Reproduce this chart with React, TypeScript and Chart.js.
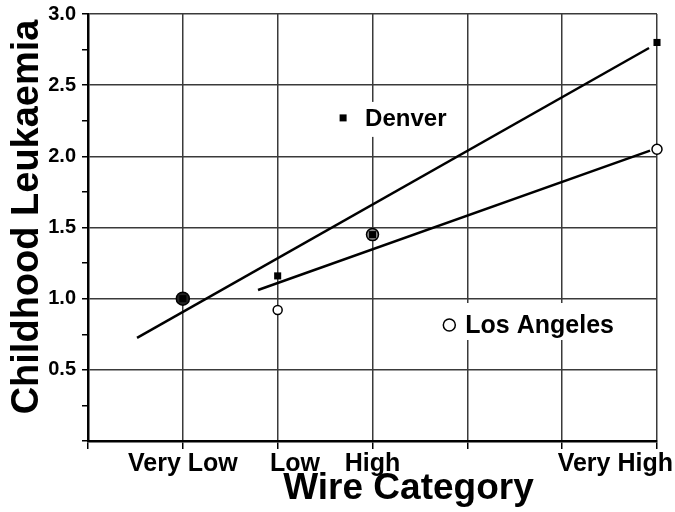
import React, { useEffect, useRef } from "react";
import { Chart, registerables } from "chart.js";

Chart.register(...registerables);

// ---- data ----
const categoryPositions = [1, 2, 3, 6];
const categoryLabels = ["Very Low", "Low", "High", "Very High"];
const denverValues = [1.0, 1.16, 1.45, 2.8];
const losAngelesValues = [1.0, 0.92, 1.45, 2.05];
const denverFitX = [0.517, 5.916];
const denverFitY = [0.724, 2.761];
const losAngelesFitX = [1.793, 5.927];
const losAngelesFitY = [1.061, 2.04];
const legendNames = ["Denver", "Los Angeles"];
const legendAnchorX = [2.69, 3.81];
const legendAnchorY = [2.27, 0.815];

const FONT = "'Liberation Sans', Arial, Helvetica, sans-serif";

// label text padded so it sits where the original placed it
const labelPad: Record<string, string> = {
  "Very Low": "Very Low",
  Low: "     Low",
  High: "High",
  "Very High": "Very High            ",
};

const inlineLegend = {
  id: "inlineLegend",
  afterDatasetsDraw(chart: any) {
    const { ctx } = chart;
    const xs = chart.scales.x;
    const ys = chart.scales.y;
    legendNames.forEach((name, i) => {
      const mx = xs.getPixelForValue(legendAnchorX[i]);
      const my = ys.getPixelForValue(legendAnchorY[i]);
      ctx.save();
      ctx.fillStyle = "#ffffff";
      if (i === 0) {
        ctx.fillRect(mx - 6, my - 16, 118, 35);
        ctx.fillStyle = "#000";
        ctx.fillRect(mx - 3.5, my - 3.5, 7, 7);
        ctx.font = `bold 24px ${FONT}`;
        ctx.textBaseline = "middle";
        ctx.textAlign = "left";
        ctx.fillText(name, mx + 22, my + 1);
      } else {
        ctx.fillRect(mx - 9, my - 22, 178, 37);
        ctx.beginPath();
        ctx.arc(mx, my, 6, 0, Math.PI * 2);
        ctx.fillStyle = "#fff";
        ctx.fill();
        ctx.lineWidth = 1.5;
        ctx.strokeStyle = "#000";
        ctx.stroke();
        ctx.fillStyle = "#000";
        ctx.font = `bold 25px ${FONT}`;
        ctx.textBaseline = "middle";
        ctx.textAlign = "left";
        ctx.fillText(name, mx + 16, my + 1);
      }
      ctx.restore();
    });
  },
};

export default function App() {
  const canvasRef = useRef<HTMLCanvasElement | null>(null);

  useEffect(() => {
    const canvas = canvasRef.current;
    if (!canvas) return;
    const chart = new Chart(canvas, {
      type: "scatter",
      data: {
        datasets: [
          {
            label: "Denver",
            data: categoryPositions.map((x, i) => ({ x, y: denverValues[i] })),
            pointStyle: "rect",
            pointRadius: 5,
            pointBackgroundColor: "#000",
            pointBorderColor: "#000",
            pointBorderWidth: 0,
            showLine: false,
            clip: false,
            order: 0,
          },
          {
            label: "Los Angeles",
            data: categoryPositions.map((x, i) => ({ x, y: losAngelesValues[i] })),
            pointStyle: "circle",
            pointRadius: [6.5, 4.5, 6, 5],
            pointBackgroundColor: ["#222", "#fff", "#888", "#fff"],
            pointBorderColor: "#000",
            pointBorderWidth: 1.5,
            showLine: false,
            clip: false,
            order: 1,
          },
          {
            label: "Denver fit",
            data: denverFitX.map((x, i) => ({ x, y: denverFitY[i] })),
            showLine: true,
            borderColor: "#000",
            borderWidth: 2.5,
            pointRadius: 0,
            order: 2,
          },
          {
            label: "Los Angeles fit",
            data: losAngelesFitX.map((x, i) => ({ x, y: losAngelesFitY[i] })),
            showLine: true,
            borderColor: "#000",
            borderWidth: 2.5,
            pointRadius: 0,
            order: 3,
          },
        ],
      },
      options: {
        responsive: false,
        animation: false,
        events: [],
        layout: { padding: { left: 0, top: 14, right: 18, bottom: 0 } },
        plugins: {
          legend: { display: false },
          tooltip: { enabled: false },
          title: { display: false },
        },
        scales: {
          x: {
            type: "linear",
            min: 0,
            max: 6,
            ticks: {
              stepSize: 1,
              autoSkip: false,
              maxRotation: 0,
              color: "#000",
              padding: 0,
              font: { family: FONT, size: 25, weight: "bold" },
              callback: (v: any) => {
                const idx = categoryPositions.indexOf(Number(v));
                return idx >= 0 ? labelPad[categoryLabels[idx]] : "";
              },
            },
            grid: {
              color: "#3a3a3a",
              lineWidth: 1.5,
              tickColor: "#000",
              tickLength: 8,
            },
            border: { color: "#000", width: 2.5 },
            title: {
              display: true,
              text: "       Wire Category",
              color: "#000",
              font: { family: FONT, size: 37, weight: "bold" },
              padding: { top: 0, bottom: 1 },
            },
            afterFit: (scale: any) => {
              scale.height = 71;
              scale.paddingLeft = 0;
              scale.paddingRight = 0;
            },
          },
          y: {
            type: "linear",
            min: 0,
            max: 3,
            ticks: {
              stepSize: 0.25,
              autoSkip: false,
              color: "#000",
              padding: 6,
              font: { family: FONT, size: 20, weight: "bold" },
              callback: (v: any) => {
                const n = Number(v);
                return n !== 0 && Math.abs(n * 2 - Math.round(n * 2)) < 1e-9 ? n.toFixed(1) : "";
              },
            },
            grid: {
              color: (ctx: any) => {
                const n = ctx.tick ? ctx.tick.value : 0;
                return Math.abs(n * 2 - Math.round(n * 2)) < 1e-9 ? "#3a3a3a" : "rgba(0,0,0,0)";
              },
              lineWidth: 1.5,
              tickColor: "#000",
              tickLength: 6,
            },
            border: { color: "#000", width: 2.5 },
            title: {
              display: true,
              text: "  Childhood Leukaemia",
              color: "#000",
              font: { family: FONT, size: 38, weight: "bold" },
              padding: { top: 5, bottom: 0 },
            },
            afterFit: (scale: any) => {
              scale.width = 88;
              scale.paddingTop = 0;
              scale.paddingBottom = 0;
            },
          },
        },
      },
      plugins: [inlineLegend],
    });
    return () => chart.destroy();
  }, []);

  return (
    <div style={{ position: "fixed", left: 0, top: 0, width: 675, height: 512, background: "#fff" }}>
      <canvas ref={canvasRef} width={675} height={512} style={{ display: "block" }} />
    </div>
  );
}
